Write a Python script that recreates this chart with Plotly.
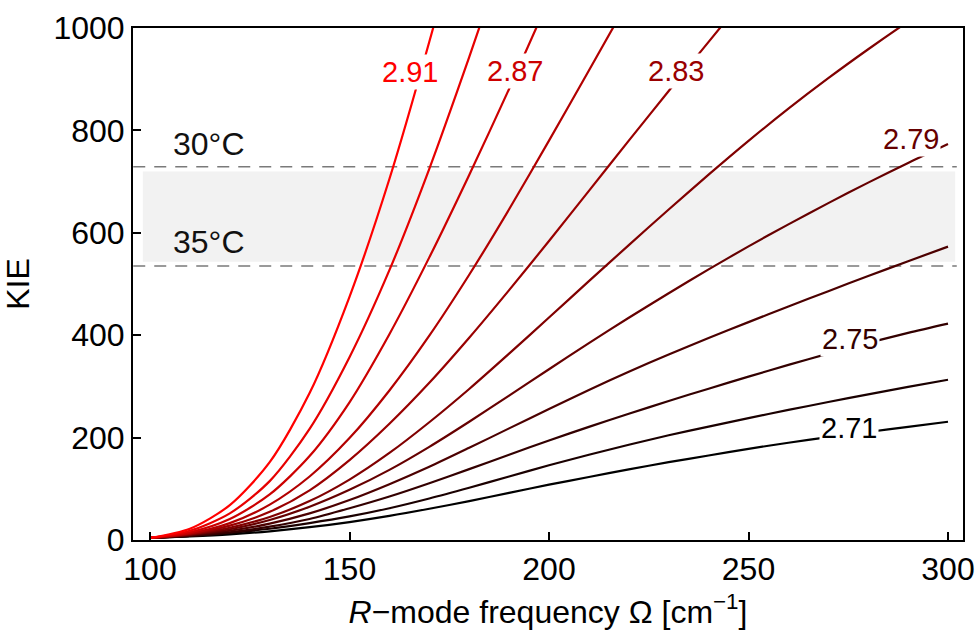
import plotly.graph_objects as go

# R-mode frequency grid (cm^-1)
omega = [100, 110, 120, 130, 140, 150, 160, 170, 180, 190, 200,
         210, 220, 230, 240, 250, 260, 270, 280, 290, 300]

# KIE curves, one per D-A distance parameter
kie_271 = [4, 7, 11, 17, 25, 35, 47, 61, 76, 92, 108, 123, 138, 152, 165, 178, 190, 201, 211, 221, 231]
kie_273 = [4, 8, 14, 22, 33, 46, 62, 81, 102, 124, 146, 166.5, 186, 204.5, 221.5, 238, 254, 269.5, 284.5, 299, 313]
kie_275 = [4, 8, 15, 26, 41, 62, 85, 111, 138.5, 166.5, 194.5, 221, 246.5, 271.5, 295.5, 319, 342, 364, 385, 404.5, 422.5]
kie_277 = [4, 9, 18, 32, 52, 78, 109, 143, 180, 218, 256, 293, 328.5, 362.5, 394.5, 425.5, 456, 486, 515.5, 544.5, 573]
kie_279 = [4, 10, 21, 39, 65, 98, 137, 182, 231, 282, 333.5, 384.5, 434, 482, 528.5, 573.5, 616.5, 658, 698, 736.5, 773.5]
kie_281 = [4, 11, 24, 45, 76, 118, 170, 230, 295, 364, 434.5, 505.5, 576, 645.5, 713.5, 779.5, 842.5, 902, 958.5, 1012.5, 1064]
kie_283 = [4, 12, 28, 55, 97, 156, 227, 307, 395, 488, 584, 682, 780, 877, 973, 1068]
kie_285 = [4, 13, 33, 69, 124, 199, 292, 399, 518, 646, 780, 917, 1055]
kie_287 = [4, 15, 41, 89, 164, 269, 402, 552, 713, 881, 1056]
kie_289 = [4, 18, 52, 115, 217, 357, 527, 725, 943, 1171]
kie_291 = [4, 22, 68, 152, 287, 475, 705, 973, 1263]

curve_names = ["2.71", "2.73", "2.75", "2.77", "2.79", "2.81", "2.83", "2.85", "2.87", "2.89", "2.91"]
curves = [kie_271, kie_273, kie_275, kie_277, kie_279, kie_281, kie_283, kie_285, kie_287, kie_289, kie_291]

# inline curve labels
label_text = ["2.91", "2.87", "2.83", "2.79", "2.75", "2.71"]
label_omega = [165.2, 191.5, 231.8, 290.7, 275.4, 275.2]
label_kie = [915, 916, 916, 783, 392, 218]

# experimental KIE at two temperatures
temp_text = ["30°C", "35°C"]
temp_kie = [729, 535]
band_kie = [543.5, 719.5]

x_ticks = [100, 150, 200, 250, 300]
y_ticks = [0, 200, 400, 600, 800, 1000]

FONT = "Liberation Sans, Arial, Helvetica, sans-serif"


def curve_color(name):
    k = curve_names.index(name)
    r = round(255 * k / (len(curve_names) - 1))
    return f"rgb({r},0,0)"


fig = go.Figure()

for name, ys in zip(curve_names, curves):
    fig.add_trace(go.Scatter(
        x=omega[:len(ys)], y=ys, mode="lines", name=name,
        line=dict(color=curve_color(name), width=2.2, shape="spline", smoothing=0.8),
        showlegend=False, hoverinfo="skip",
    ))

shapes = [
    dict(type="rect", xref="x", yref="y", x0=98.2, x1=301.8,
         y0=band_kie[0], y1=band_kie[1], fillcolor="#f2f2f2",
         line=dict(width=0), layer="below"),
]
for yv in temp_kie:
    shapes.append(dict(type="line", xref="x", yref="y", x0=95.8, x1=302.2,
                       y0=yv, y1=yv, line=dict(color="#7a7a7a", width=1.5, dash="12px,9px"),
                       layer="below"))

annotations = []
for t, xv, yv in zip(label_text, label_omega, label_kie):
    annotations.append(dict(
        x=xv, y=yv, xref="x", yref="y", text=t, showarrow=False,
        font=dict(family=FONT, size=29, color=curve_color(t)),
        bgcolor="white", borderpad=1, xanchor="center", yanchor="middle",
    ))
for t, yv in zip(temp_text, [774, 583]):
    annotations.append(dict(
        x=114.8, y=yv, xref="x", yref="y", text=t, showarrow=False,
        font=dict(family=FONT, size=32, color="#111111"),
        xanchor="center", yanchor="middle",
    ))

axis_common = dict(
    showline=True, linewidth=2, linecolor="black", mirror=True,
    ticks="inside", ticklen=8, tickwidth=2, tickcolor="black",
    showgrid=False, zeroline=False,
    tickfont=dict(family=FONT, size=32, color="black"),
    automargin=False,
)

fig.update_layout(
    width=977, height=630,
    margin=dict(l=133, r=14, t=28, b=90),
    paper_bgcolor="white", plot_bgcolor="white",
    font=dict(family=FONT, color="black"),
    xaxis=dict(range=[95.74, 303.76], tickvals=x_ticks,
               title=dict(text="<i>R</i>\u2212mode frequency \u03a9 [cm<sup>\u22121</sup>]",
                          font=dict(family=FONT, size=32, color="black"), standoff=14),
               **axis_common),
    yaxis=dict(range=[0, 1000], tickvals=y_ticks,
               title=dict(text="KIE", font=dict(family=FONT, size=32, color="black"), standoff=14),
               **axis_common),
    shapes=shapes,
    annotations=annotations,
)

fig.write_html("out.html")
